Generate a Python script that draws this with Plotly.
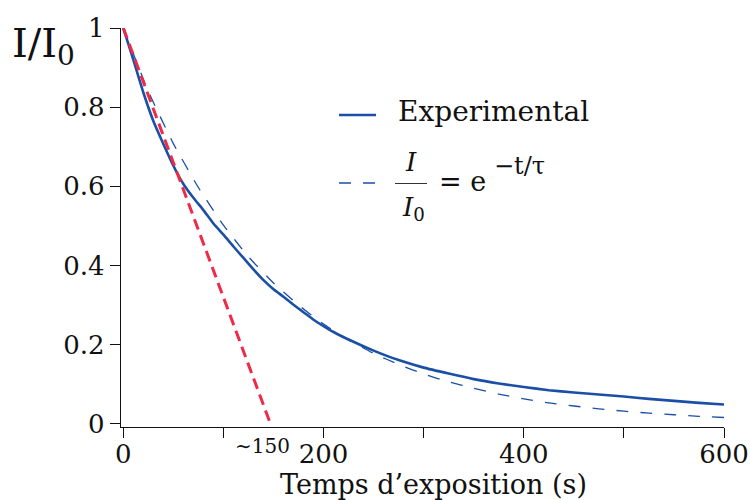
import plotly.graph_objects as go

# ---- data ----
t_exp = [0, 10, 20, 30, 40, 50, 60, 70, 80, 90, 100, 110, 120, 130, 140, 150, 160,
         170, 180, 190, 200, 210, 225, 250, 275, 300, 325, 350, 375, 400, 425, 450,
         475, 500, 525, 550, 575, 600]
v_exp = [1.0, 0.920, 0.837, 0.765, 0.707, 0.652, 0.606, 0.571, 0.540, 0.506, 0.478,
         0.448, 0.419, 0.390, 0.363, 0.340, 0.321, 0.301, 0.282, 0.263, 0.247, 0.232,
         0.213, 0.185, 0.161, 0.142, 0.127, 0.113, 0.102, 0.093, 0.085, 0.079, 0.074,
         0.069, 0.063, 0.058, 0.053, 0.049]

t_fit = [0, 25, 50, 75, 100, 125, 150, 175, 200, 225, 250, 275, 300, 325, 350, 375,
         400, 425, 450, 475, 500, 525, 550, 575, 600]
v_fit = [1.0, 0.840, 0.708, 0.597, 0.502, 0.422, 0.356, 0.300, 0.252, 0.212, 0.178,
         0.150, 0.126, 0.106, 0.090, 0.075, 0.063, 0.053, 0.045, 0.038, 0.032, 0.027,
         0.023, 0.019, 0.016]

t_tan = [0, 147]
v_tan = [1.0, 0.0]

x_ticks = [0, 100, 200, 300, 400, 500, 600]
x_ticklabels = ["0", "", "200", "", "400", "", "600"]
y_ticks = [0, 0.2, 0.4, 0.6, 0.8, 1.0]
y_ticklabels = ["0", "0.2", "0.4", "0.6", "0.8", "1"]

x_title = "Temps d\u2019exposition (s)"
y_title = "I/I<sub>0</sub>"
tau_label = "\u223c150"
legend_exp = "Experimental"

# ---- layout helpers ----
W, H = 751, 500
L, R, T, B = 121, 27, 28, 73
PW, PH = W - L - R, H - T - B


def px(x):
    return (x - L) / PW


def py(y):
    return (H - B - y) / PH


FONT = "DejaVu Serif"
BLUE = "#1b4fa6"
RED = "#ee2a48"
INK = "#111111"

fig = go.Figure()
fig.add_trace(go.Scatter(x=t_fit, y=v_fit, mode="lines", showlegend=False,
                         line=dict(color=BLUE, width=1.3, dash="12px,12px",
                                   shape="spline", smoothing=0.5)))
fig.add_trace(go.Scatter(x=t_exp, y=v_exp, mode="lines", showlegend=False,
                         line=dict(color=BLUE, width=2.6, shape="spline", smoothing=0.5)))
fig.add_trace(go.Scatter(x=t_tan, y=v_tan, mode="lines", showlegend=False,
                         line=dict(color=RED, width=3, dash="11px,6px")))

axis_common = dict(showline=True, linecolor=INK, linewidth=1.3, ticks="outside",
                   ticklen=10, tickwidth=1.3, tickcolor=INK, showgrid=False,
                   zeroline=False, automargin=False,
                   tickfont=dict(family=FONT, size=26, color=INK))

fig.update_layout(
    width=W, height=H,
    margin=dict(l=L, r=R, t=T, b=B, pad=0),
    paper_bgcolor="white", plot_bgcolor="white",
    font=dict(family=FONT, color=INK),
    xaxis=dict(range=[-2.3, 600], tickvals=x_ticks, ticktext=x_ticklabels,
               ticklabelstandoff=-6, **axis_common),
    yaxis=dict(range=[-0.008, 1.0], tickvals=y_ticks, ticktext=y_ticklabels,
               **axis_common),
)

ann = [
    dict(text=y_title, x=px(10), y=py(46), xanchor="left", yanchor="middle",
         font=dict(size=40)),
    dict(text=x_title, x=px(433.5), y=py(485), xanchor="center", yanchor="middle",
         font=dict(size=27)),
    dict(text=tau_label, x=px(262), y=py(446), xanchor="center", yanchor="middle",
         font=dict(size=20)),
    dict(text=legend_exp, x=px(396), y=py(111), xanchor="left", yanchor="middle",
         font=dict(size=28)),
    dict(text="<i>I</i>", x=px(411), y=py(162), xanchor="center", yanchor="middle",
         font=dict(size=26)),
    dict(text="<i>I</i><sub>0</sub>", x=px(413), y=py(208), xanchor="center",
         yanchor="middle", font=dict(size=26)),
    dict(text="= e", x=px(437), y=py(181), xanchor="left", yanchor="middle",
         font=dict(size=27)),
    dict(text="\u2212t/\u03c4", x=px(492), y=py(166), xanchor="left", yanchor="middle",
         font=dict(size=24)),
]
for a in ann:
    a.update(xref="paper", yref="paper", showarrow=False)
    a["font"].update(family=FONT, color=INK)
fig.update_layout(annotations=ann)

fig.add_shape(type="line", xref="paper", yref="paper", x0=px(339), x1=px(376),
              y0=py(115), y1=py(115), line=dict(color=BLUE, width=2.6))
fig.add_shape(type="line", xref="paper", yref="paper", x0=px(339), x1=px(376),
              y0=py(183), y1=py(183), line=dict(color=BLUE, width=1.3, dash="12px,12px"))
fig.add_shape(type="line", xref="paper", yref="paper", x0=px(395), x1=px(427),
              y0=py(183.5), y1=py(183.5), line=dict(color="#333333", width=1))

fig.write_html("out.html", config={"displayModeBar": False},
               post_script="document.body.style.margin='0px';")
